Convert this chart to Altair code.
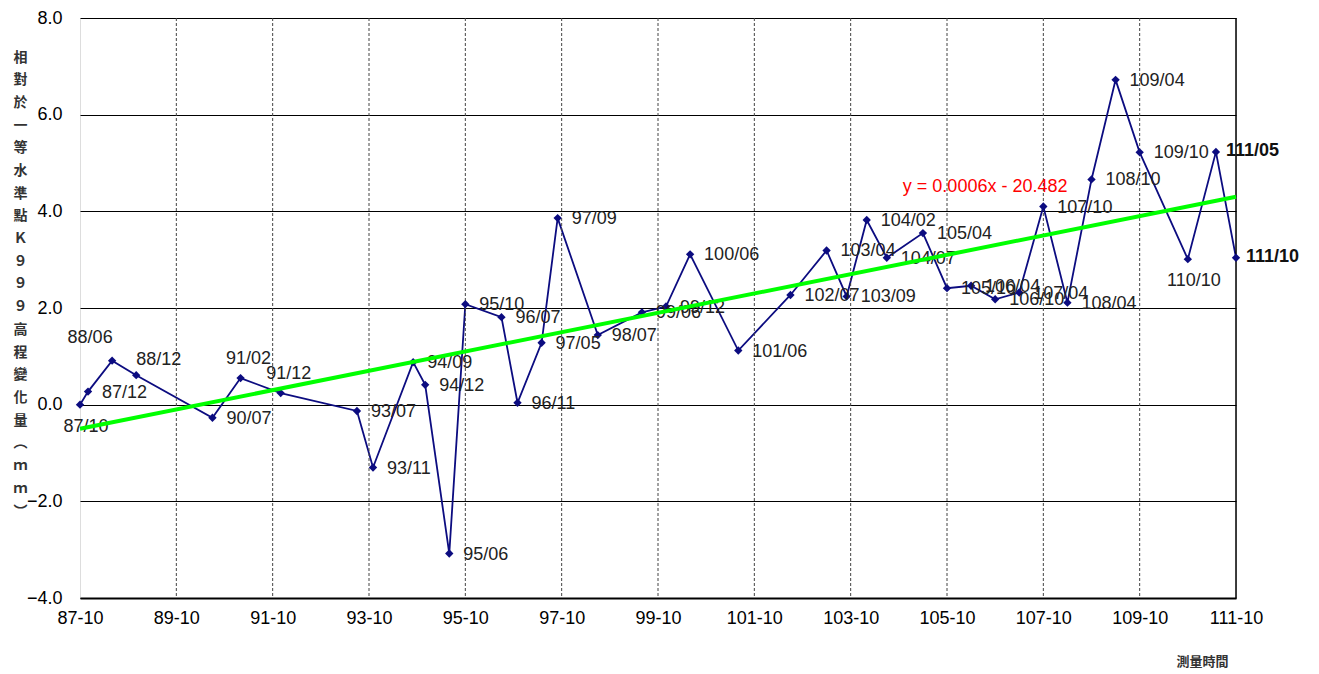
import altair as alt
import pandas as pd

# ---- data ----
labels = ["87/10", "87/12", "88/06", "88/12", "90/07", "91/02", "91/12", "93/07", "93/11",
          "94/09", "94/12", "95/06", "95/10", "96/07", "96/11", "97/05", "97/09", "98/07",
          "99/06", "99/12", "100/06", "101/06", "102/07", "103/04", "103/09", "104/02",
          "104/07", "105/04", "105/10", "106/04", "106/10", "107/04", "107/10", "108/04",
          "108/10", "109/04", "109/10", "110/10", "111/05", "111/10"]
values = [0.00, 0.27, 0.91, 0.61, -0.27, 0.55, 0.24, -0.13, -1.30,
          0.88, 0.41, -3.08, 2.08, 1.81, 0.04, 1.28, 3.86, 1.44,
          1.91, 2.03, 3.11, 1.12, 2.27, 3.19, 2.24, 3.82,
          3.04, 3.55, 2.41, 2.46, 2.18, 2.32, 4.10, 2.11,
          4.66, 6.72, 5.22, 3.01, 5.23, 3.04]

tick_labels = ["87-10", "89-10", "91-10", "93-10", "95-10", "97-10", "99-10",
               "101-10", "103-10", "105-10", "107-10", "109-10", "111-10"]
y_ticks = [-4, -2, 0, 2, 4, 6, 8]

trend_dates = ["87/10", "111/10"]
trend_values = [-0.50, 4.30]

equation_text = "y = 0.0006x - 20.482"
equation_date = "104/11"
equation_value = 4.50

y_title = ["相", "對", "於", "一", "等", "水", "準", "點", "Ｋ", "９", "９", "９",
           "高", "程", "變", "化", "量", "︵", "ｍ", "ｍ", "︶"]
x_title = "測量時間"

# label placement groups
below_labels = ["87/10", "110/10"]
above_labels = ["91/02", "91/12"]
above_left_labels = ["88/06"]
above_right_labels = ["88/12"]
bold_labels = ["111/05", "111/10"]


def month_index(s):
    y, m = s.replace("-", "/").split("/")
    return int(y) * 12 + int(m)


df = pd.DataFrame({"label": labels, "value": values,
                   "t": [month_index(s) for s in labels]})
tick_pos = [month_index(s) for s in tick_labels]
trend_df = pd.DataFrame({"t": [month_index(s) for s in trend_dates], "value": trend_values})
grid_df = pd.DataFrame({"t": tick_pos[1:-1]})
border_df = pd.DataFrame({"t": tick_pos[-1:]})
eq_df = pd.DataFrame({"t": [month_index(equation_date)], "value": [equation_value],
                      "txt": [equation_text]})

FONT = "Liberation Sans"
label_expr = "{" + ",".join(f"'{p}':'{l}'" for p, l in zip(tick_pos, tick_labels)) + "}[datum.value]"

xscale = alt.Scale(domain=[tick_pos[0], tick_pos[-1]], nice=False, zero=False)
yscale = alt.Scale(domain=[-4, 8], nice=False)

x_enc = alt.X("t:Q", scale=xscale,
              axis=alt.Axis(values=tick_pos, labelExpr=label_expr, grid=False, ticks=False,
                            domain=True, domainColor="black", domainWidth=2,
                            labelFont=FONT, labelFontSize=18, labelColor="black",
                            labelPadding=11, labelFlush=False,
                            title=x_title, titleFont="Noto Sans CJK TC", titleFontSize=13,
                            titleFontWeight="bold", titleColor="#333",
                            titleAnchor="start", titleAlign="right", titleX=1148, titleY=63,
                            titleBaseline="middle"))
y_enc = alt.Y("value:Q", scale=yscale,
              axis=alt.Axis(values=y_ticks, format=".1f", grid=True, gridColor="black",
                            gridWidth=1, gridOpacity=1, ticks=False, domain=False,
                            labelFont=FONT, labelFontSize=18, labelColor="black",
                            labelPadding=18,
                            title=y_title, titleAngle=0, titleFont="Noto Sans CJK TC",
                            titleFontSize=14, titleFontWeight="bold", titleColor="#333",
                            titleLineHeight=22.7, titleAlign="center", titleBaseline="top",
                            titleX=-60, titleY=32))

base = alt.Chart(df)

vgrid = alt.Chart(grid_df).mark_rule(color="#444", strokeWidth=1, strokeDash=[3, 2]).encode(
    x=alt.X("t:Q", scale=xscale))
border = alt.Chart(border_df).mark_rule(color="black", strokeWidth=1.5).encode(
    x=alt.X("t:Q", scale=xscale))

line = base.mark_line(color="#0c0c80", strokeWidth=1.8).encode(x=x_enc, y=y_enc)
pts = base.mark_point(shape="diamond", filled=True, color="#0c0c80", size=70, opacity=1).encode(
    x=alt.X("t:Q", scale=xscale), y=alt.Y("value:Q", scale=yscale))

txt_common = dict(font=FONT, fontSize=18, color="#222")
xy = dict(x=alt.X("t:Q", scale=xscale), y=alt.Y("value:Q", scale=yscale), text="label:N")
special = below_labels + above_labels + above_left_labels + above_right_labels + bold_labels


def group(names):
    return base.transform_filter(alt.FieldOneOfPredicate(field="label", oneOf=names))


right_lbl = base.transform_filter(
    ~alt.FieldOneOfPredicate(field="label", oneOf=special)
).mark_text(align="left", baseline="middle", dx=14, dy=1, **txt_common).encode(**xy)

below_lbl = group(below_labels).mark_text(
    align="center", baseline="middle", dx=6, dy=22, **txt_common).encode(**xy)
above_lbl = group(above_labels).mark_text(
    align="center", baseline="middle", dx=8, dy=-19, **txt_common).encode(**xy)
above_left_lbl = group(above_left_labels).mark_text(
    align="center", baseline="middle", dx=-22, dy=-23, **txt_common).encode(**xy)
above_right_lbl = group(above_right_labels).mark_text(
    align="left", baseline="middle", dx=0, dy=-15, **txt_common).encode(**xy)
bold_lbl = group(bold_labels).mark_text(
    align="left", baseline="middle", dx=10, dy=-1, fontWeight="bold",
    font=FONT, fontSize=18, color="#111").encode(**xy)

trend = alt.Chart(trend_df).mark_line(color="#00ff00", strokeWidth=4).encode(
    x=alt.X("t:Q", scale=xscale), y=alt.Y("value:Q", scale=yscale))

eq = alt.Chart(eq_df).mark_text(align="left", baseline="middle", font=FONT, fontSize=18,
                                color="#ff0000").encode(
    x=alt.X("t:Q", scale=xscale), y=alt.Y("value:Q", scale=yscale), text="txt:N")

chart = alt.layer(line, vgrid, border, pts, right_lbl, below_lbl, above_lbl, above_left_lbl,
                  above_right_lbl, bold_lbl, trend, eq).properties(
    width=1156, height=580,
    autosize=alt.AutoSizeParams(type="none"),
    padding={"left": 72, "top": 10, "right": 75, "bottom": 74},
).configure_view(stroke=None).configure(background="white")

chart.save("out.html", embed_options={"renderer": "svg", "actions": False})
